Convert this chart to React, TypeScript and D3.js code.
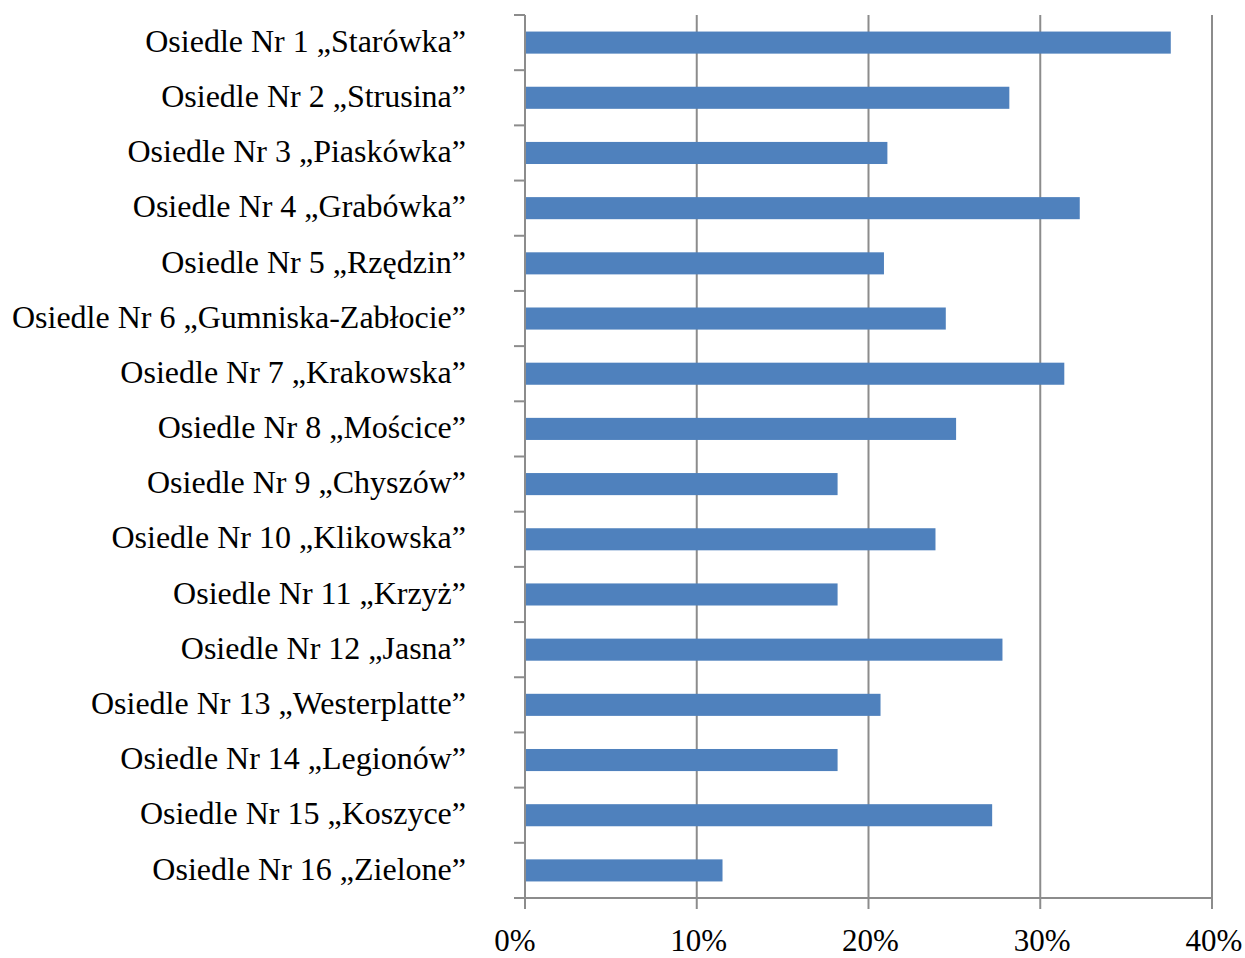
import React from 'react'
import * as d3 from 'd3'

const categories = [
  'Osiedle Nr 1 „Starówka”',
  'Osiedle Nr 2 „Strusina”',
  'Osiedle Nr 3 „Piaskówka”',
  'Osiedle Nr 4 „Grabówka”',
  'Osiedle Nr 5 „Rzędzin”',
  'Osiedle Nr 6 „Gumniska-Zabłocie”',
  'Osiedle Nr 7 „Krakowska”',
  'Osiedle Nr 8 „Mościce”',
  'Osiedle Nr 9 „Chyszów”',
  'Osiedle Nr 10 „Klikowska”',
  'Osiedle Nr 11 „Krzyż”',
  'Osiedle Nr 12 „Jasna”',
  'Osiedle Nr 13 „Westerplatte”',
  'Osiedle Nr 14 „Legionów”',
  'Osiedle Nr 15 „Koszyce”',
  'Osiedle Nr 16 „Zielone”'
]

const values = [37.6, 28.2, 21.1, 32.3, 20.9, 24.5, 31.4, 25.1, 18.2, 23.9, 18.2, 27.8, 20.7, 18.2, 27.2, 11.5]

const xTicks = [0, 10, 20, 30, 40]

const W = 1245
const H = 958
const margin = { top: 15, left: 525 }

const App = () => {
  const plotW = 687
  const plotH = 883

  const x = d3.scaleLinear().domain([0, 40]).range([0, plotW])
  const y = d3.scaleBand<string>().domain(categories).range([0, plotH]).paddingInner(0.6).paddingOuter(0.3)
  const boundaries = d3.range(categories.length + 1).map(i => i * (plotH / categories.length))

  const font = '"Liberation Serif", "Times New Roman", serif'

  return (
    <svg width={W} height={H} style={{ position: 'absolute', left: 0, top: 0, background: '#fff' }}>
      <g transform={`translate(${margin.left},${margin.top})`}>
        {/* gridlines */}
        {xTicks.slice(1).map(t => (
          <line key={t} x1={x(t)} x2={x(t)} y1={0} y2={plotH} stroke='#8c8c8c' strokeWidth={2} />
        ))}
        {/* bars */}
        {categories.map((c, i) => (
          <rect key={c} x={0} y={y(c)} width={x(values[i])} height={y.bandwidth()} fill='#4f81bd' />
        ))}
        {/* y axis */}
        <line x1={0} x2={0} y1={0} y2={plotH} stroke='#8c8c8c' strokeWidth={2} />
        {boundaries.map((b, i) => (
          <line key={i} x1={-11} x2={0} y1={b} y2={b} stroke='#8c8c8c' strokeWidth={2} />
        ))}
        {/* x axis */}
        <line x1={0} x2={plotW} y1={plotH} y2={plotH} stroke='#8c8c8c' strokeWidth={2} />
        {xTicks.map(t => (
          <g key={t}>
            <line x1={x(t)} x2={x(t)} y1={plotH} y2={plotH + 11} stroke='#8c8c8c' strokeWidth={2} />
            <text
              x={x(t) + (t === 0 ? -10 : 2)}
              y={936}
              textAnchor='middle'
              fontFamily={font}
              fontSize={31}
              fill='#000'
            >
              {t}%
            </text>
          </g>
        ))}
        {/* category labels */}
        {categories.map(c => (
          <text
            key={c}
            x={-59}
            y={(y(c) ?? 0) + y.bandwidth() / 2 - 2}
            dy='0.35em'
            textAnchor='end'
            fontFamily={font}
            fontSize={32}
            fill='#000'
          >
            {c}
          </text>
        ))}
      </g>
    </svg>
  )
}

export default App
